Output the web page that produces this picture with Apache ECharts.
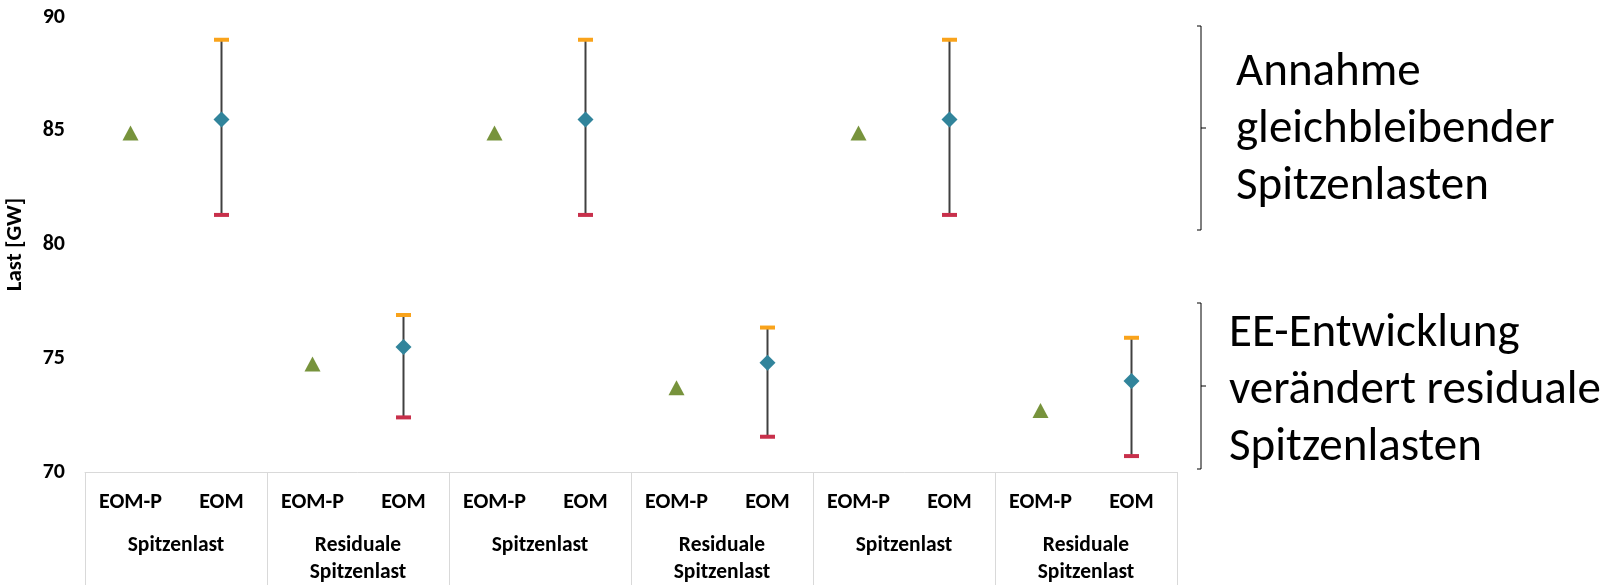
<!DOCTYPE html>
<html>
<head>
<meta charset="utf-8">
<script src="https://cdn.jsdelivr.net/npm/echarts@6/dist/echarts.min.js"></script>
<style>
html,body{margin:0;padding:0;background:#fff;}
#c{width:1608px;height:585px;}
</style>
</head>
<body>
<div id="c"></div>
<script>
// ---- data ----
var categories = ['EOM-P','EOM','EOM-P','EOM','EOM-P','EOM','EOM-P','EOM','EOM-P','EOM','EOM-P','EOM'];
var groupLabels = ['Spitzenlast','Residuale\nSpitzenlast','Spitzenlast','Residuale\nSpitzenlast','Spitzenlast','Residuale\nSpitzenlast'];
var eompValues = [84.9, 74.75, 84.9, 73.7, 84.9, 72.7];
var eomValues  = [85.5, 75.5, 85.5, 74.8, 85.5, 74.0];
var eomHigh    = [89.0, 76.9, 89.0, 76.35, 89.0, 75.9];
var eomLow     = [81.3, 72.4, 81.3, 71.55, 81.3, 70.7];
var yTicks = [70, 75, 80, 85, 90];

var FONT = 'Carlito, Lato, "Open Sans", sans-serif';

var triData = eompValues.map(function(v,i){ return [2*i, v]; });
var diaData = eomValues.map(function(v,i){ return [2*i+1, v]; });
var hiData  = eomHigh.map(function(v,i){ return [2*i+1, v]; });
var loData  = eomLow.map(function(v,i){ return [2*i+1, v]; });
var errData = eomHigh.map(function(v,i){ return [2*i+1, eomLow[i], v]; });

var chart = echarts.init(document.getElementById('c'), null, {renderer:'canvas'});
chart.setOption({
  animation: false,
  backgroundColor: '#fff',
  grid: {left: 85, right: 431, top: 17, bottom: 113, containLabel: false, outerBoundsMode: 'none'},
  xAxis: [{
    type: 'category', data: categories, position: 'bottom',
    axisLine: {show: true, lineStyle: {color: '#d9d9d9', width: 1}},
    axisTick: {show: false},
    axisLabel: {interval: 0, margin: 19, fontFamily: FONT, fontWeight: 'bold', fontSize: 22, color: '#000'}
  },{
    type: 'category', data: groupLabels, position: 'bottom', gridIndex: 0,
    axisLine: {show: false},
    axisTick: {show: true, length: 120, lineStyle: {color: '#d9d9d9', width: 1}},
    axisLabel: {interval: 0, margin: 60, fontFamily: FONT, fontWeight: 'bold', fontSize: 21.5, color: '#000', lineHeight: 27, verticalAlign: 'top'}
  }],
  yAxis: {
    type: 'value', min: yTicks[0], max: yTicks[yTicks.length-1], interval: 5,
    axisLine: {show: false}, axisTick: {show: false}, splitLine: {show: false},
    axisLabel: {margin: 20, fontFamily: FONT, fontWeight: 'bold', fontSize: 22, color: '#000'},
    name: 'Last [GW]', nameLocation: 'middle', nameRotate: 90, nameGap: 58,
    nameTextStyle: {fontFamily: FONT, fontWeight: 'bold', fontSize: 23, color: '#000'}
  },
  series: [{
    type: 'custom', name: 'range', xAxisIndex: 0,
    data: errData,
    renderItem: function(params, api){
      var p1 = api.coord([api.value(0), api.value(1)]);
      var p2 = api.coord([api.value(0), api.value(2)]);
      return {type:'line', shape:{x1:p1[0], y1:p1[1], x2:p2[0], y2:p2[1]},
              style:{stroke:'#404040', lineWidth:2}};
    },
    z: 1
  },{
    type: 'scatter', name: 'high', data: hiData, symbol: 'rect', symbolSize: [15,4],
    itemStyle: {color: '#F9A31B', opacity: 1}, z: 3
  },{
    type: 'scatter', name: 'low', data: loData, symbol: 'rect', symbolSize: [15,4],
    itemStyle: {color: '#C8304B', opacity: 1}, z: 3
  },{
    type: 'scatter', name: 'EOM', data: diaData, symbol: 'diamond', symbolSize: [16,16],
    itemStyle: {color: '#31849B', opacity: 1}, z: 4
  },{
    type: 'scatter', name: 'EOM-P', data: triData, symbol: 'triangle', symbolSize: [16,15],
    itemStyle: {color: '#77933C', opacity: 1}, z: 4
  }],
  graphic: [
    {type:'polyline', shape:{points:[[1197,26],[1201,26],[1201,230],[1197,230]]}, style:{stroke:'#000', lineWidth:1, fill:null}},
    {type:'line', shape:{x1:1201,y1:128,x2:1206,y2:128}, style:{stroke:'#000', lineWidth:1}},
    {type:'polyline', shape:{points:[[1197,303],[1201,303],[1201,469],[1197,469]]}, style:{stroke:'#000', lineWidth:1, fill:null}},
    {type:'line', shape:{x1:1201,y1:386,x2:1206,y2:386}, style:{stroke:'#000', lineWidth:1}},
    {type:'text', left:1236, top:45, style:{text:'Annahme\ngleichbleibender\nSpitzenlasten', font:'47px ' + FONT, fill:'#000', lineHeight:57}},
    {type:'text', left:1229, top:306, style:{text:'EE-Entwicklung\nverändert residuale\nSpitzenlasten', font:'47px ' + FONT, fill:'#000', lineHeight:57}}
  ]
});
</script>
</body>
</html>
